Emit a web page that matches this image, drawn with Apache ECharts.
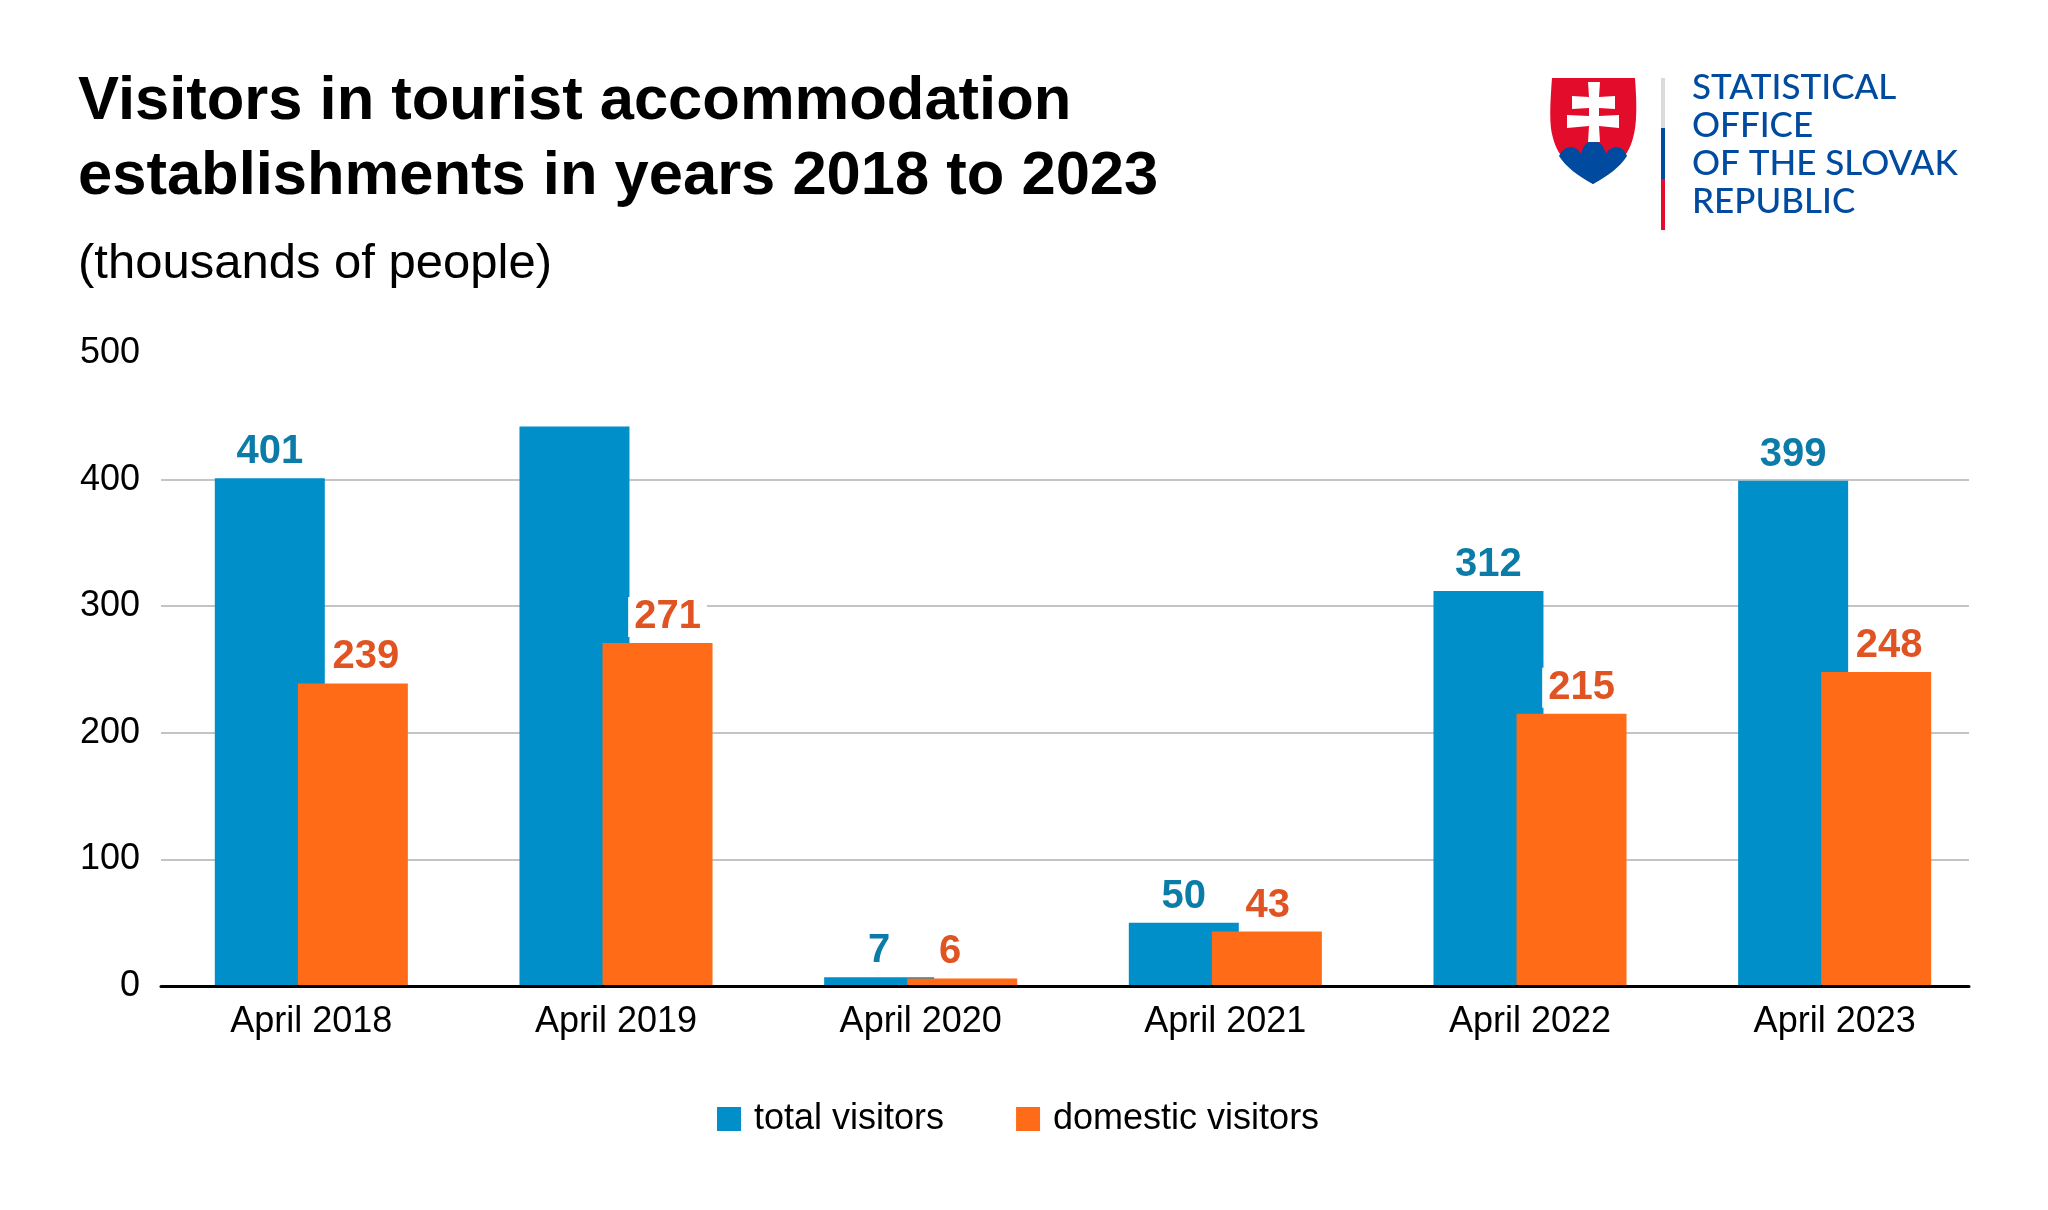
<!DOCTYPE html>
<html>
<head>
<meta charset="utf-8">
<title>Visitors in tourist accommodation establishments</title>
<script src="https://cdn.jsdelivr.net/npm/echarts@6/dist/echarts.min.js"></script>
<style>
  html, body { margin: 0; padding: 0; background: #fff; }
  #chart { width: 2048px; height: 1210px; }
</style>
</head>
<body>
<div id="chart"></div>
<script>
  const categories = ['April 2018', 'April 2019', 'April 2020', 'April 2021', 'April 2022', 'April 2023'];
  const totalVisitors = [401, 442, 7, 50, 312, 399];
  const domesticVisitors = [239, 271, 6, 43, 215, 248];
  const yTicks = [0, 100, 200, 300, 400, 500];
  const logoLines = ['STATISTICAL', 'OFFICE', 'OF THE SLOVAK', 'REPUBLIC'];

  const fontFamily = '"Liberation Sans", Arial, sans-serif';
  const blue = '#008fc8';
  const orange = '#ff6b17';
  const blueLabel = '#0b7ba8';
  const orangeLabel = '#e05323';

  // labels the source chart nudged sideways (or dropped) to dodge other marks
  const totalHidden = [1];
  const domesticNudge = [13, 10, -12, 1, 10, 13];

  const barLabel = (color) => ({
    show: true,
    position: 'top',
    distance: 6,
    color,
    fontFamily,
    fontSize: 40,
    fontWeight: 'bold',
    backgroundColor: '#fff',
    padding: [0, 6],
  });

  const logoShapes = [
    { d: 'M1552 78L1635 78C1637 105 1637 125 1633 138C1628 158 1612 172 1593 184C1574 172 1558 158 1553 138C1549 125 1550 105 1552 78Z', fill: '#e40c2b' },
    { d: 'M1559 156C1562 150 1566 147 1571 147C1575 147 1579 150 1581 154C1583 146 1587 141 1593 141C1599 141 1604 146 1606 154C1608 150 1612 147 1616 147C1621 147 1625 150 1627 156C1620 167 1608 176 1593 184C1578 176 1566 167 1559 156Z', fill: '#004b9f' },
    { d: 'M1588 82L1600 82L1599 97L1615 96L1615 109L1599 108L1599 116L1619 115L1619 128L1599 126L1600 142L1588 142L1589 126L1567 128L1567 115L1589 116L1589 108L1572 109L1572 96L1589 97Z', fill: '#fff' },
    { d: 'M1661 78h4v50h-4Z', fill: '#d9dcdc' },
    { d: 'M1661 128h4v51h-4Z', fill: '#004b9f' },
    { d: 'M1661 179h4v51h-4Z', fill: '#e40c2b' },
  ];

  // graphic component has no plain path type, so register each logo part
  logoShapes.forEach((s, i) => {
    echarts.graphic.registerShape('logoPart' + i, echarts.graphic.extendPath(s.d, {}));
  });

  const chart = echarts.init(document.getElementById('chart'), null, { renderer: 'canvas' });

  chart.setOption({
    animation: false,
    backgroundColor: '#fff',
    title: [
      {
        text: 'Visitors in tourist accommodation\nestablishments in years 2018 to 2023',
        left: 78,
        top: 65,
        padding: 0,
        textStyle: { fontFamily, fontSize: 61.5, fontWeight: 'bold', color: '#000', lineHeight: 74.5 },
      },
      {
        text: '(thousands of people)',
        left: 78,
        top: 240,
        padding: 0,
        textStyle: { fontFamily, fontSize: 49, fontWeight: 'normal', color: '#000' },
      },
    ],
    legend: {
      left: 717,
      top: 1101,
      padding: 0,
      itemWidth: 24,
      itemHeight: 24,
      itemGap: 72,
      icon: 'rect',
      data: ['total visitors', 'domestic visitors'],
      textStyle: { fontFamily, fontSize: 36, color: '#000', padding: [0, 0, 0, 8] },
    },
    // grid 0 holds the bars, grid 1 the shorter rule lines and y labels
    grid: [
      { left: 159, top: 353, width: 1828, height: 633 },
      { left: 161, top: 353, width: 1808, height: 633 },
    ],
    xAxis: [
      {
        type: 'category',
        gridIndex: 0,
        data: categories,
        axisLine: { show: false },
        axisTick: { show: false },
        axisLabel: { fontFamily, fontSize: 36, color: '#000', margin: 18 },
      },
      {
        type: 'value',
        gridIndex: 1,
        min: 0,
        max: 1,
        z: 3,
        axisLine: { show: true, onZero: false, lineStyle: { color: '#000', width: 3 } },
        axisTick: { show: false },
        axisLabel: { show: false },
        splitLine: { show: false },
      },
    ],
    yAxis: [
      { type: 'value', gridIndex: 0, min: 0, max: 500, interval: 100, show: false },
      {
        type: 'value',
        gridIndex: 1,
        min: yTicks[0],
        max: yTicks[yTicks.length - 1],
        interval: yTicks[1] - yTicks[0],
        axisLine: { show: false },
        axisTick: { show: false },
        axisLabel: { fontFamily, fontSize: 36, color: '#000', margin: 21 },
        splitLine: { show: true, showMaxLine: false, lineStyle: { color: '#b0b0b0', width: 1.5 } },
      },
    ],
    series: [
      {
        name: 'total visitors',
        type: 'bar',
        xAxisIndex: 0,
        yAxisIndex: 0,
        barWidth: 110,
        barGap: '-24.5%',
        itemStyle: { color: blue },
        label: barLabel(blueLabel),
        data: totalVisitors.map((value, i) => ({
          value,
          label: totalHidden.includes(i) ? { show: false } : undefined,
        })),
      },
      {
        name: 'domestic visitors',
        type: 'bar',
        xAxisIndex: 0,
        yAxisIndex: 0,
        barWidth: 110,
        itemStyle: { color: orange },
        label: barLabel(orangeLabel),
        data: domesticVisitors.map((value, i) => ({
          value,
          label: { offset: [domesticNudge[i], 0] },
        })),
      },
    ],
    graphic: [
      ...logoShapes.map((s, i) => ({
        type: 'logoPart' + i,
        style: { fill: s.fill },
      })),
      ...logoLines.map((line, i) => ({
        type: 'text',
        left: 1692,
        top: 70 + i * 38,
        style: { text: line, fontFamily: 'Lato, sans-serif', fontSize: 35, fontWeight: 500, fill: '#004b9f' },
      })),
    ],
  });
</script>
</body>
</html>
